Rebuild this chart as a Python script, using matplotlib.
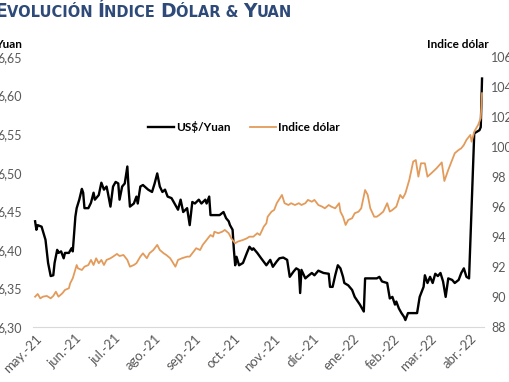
import matplotlib
matplotlib.use("Agg")
import matplotlib.pyplot as plt
import numpy as np
import pandas as pd
from matplotlib.offsetbox import TextArea, HPacker, AnchoredOffsetbox

plt.rcParams['font.family'] = ['Lato', 'DejaVu Sans']

# days counted from 2021-05-01
yuan_days = [0, 1, 2, 5, 8, 10, 12, 14, 15, 17, 18, 20, 22, 23, 26, 28, 29, 31, 32, 34,
             36, 37, 38, 41, 43, 45, 46, 49, 51, 53, 55, 56, 58, 60, 62, 64, 65, 67, 69, 71,
             72, 73, 76, 78, 79, 81, 83, 87, 90, 92, 94, 96, 98, 100, 102, 105, 108, 110, 112, 114,
             117, 119, 121, 123, 126, 128, 131, 132, 134, 135, 138, 142, 145, 147, 149, 150, 152, 153, 154, 155,
             157, 160, 163, 165, 167, 168, 171, 174, 178, 181, 183, 186, 188, 191, 194, 195, 196, 199, 201, 203,
             204, 205, 208, 210, 213, 215, 218, 222, 226, 227, 229, 231, 233, 235, 237, 238, 241, 244, 246, 250,
             253, 254, 258, 263, 265, 267, 271, 273, 275, 277, 278, 280, 282, 284, 285, 287, 290, 294, 296, 299,
             300, 302, 304, 306, 308, 310, 312, 314, 316, 318, 321, 323, 326, 328, 330, 332, 334, 338, 342, 343,
             344]
yuan = [6.437, 6.426, 6.432, 6.430, 6.413, 6.383, 6.366, 6.367, 6.383, 6.400, 6.396, 6.398, 6.389, 6.396, 6.396, 6.402, 6.398, 6.443, 6.454, 6.465,
        6.479, 6.474, 6.454, 6.454, 6.461, 6.474, 6.465, 6.471, 6.487, 6.478, 6.482, 6.474, 6.456, 6.482, 6.488, 6.486, 6.465, 6.482, 6.486, 6.508,
        6.478, 6.456, 6.460, 6.469, 6.460, 6.482, 6.484, 6.478, 6.475, 6.486, 6.499, 6.482, 6.475, 6.478, 6.469, 6.467, 6.458, 6.452, 6.465, 6.449,
        6.454, 6.432, 6.462, 6.460, 6.465, 6.460, 6.465, 6.460, 6.469, 6.445, 6.445, 6.445, 6.449, 6.441, 6.437, 6.432, 6.426, 6.400, 6.380, 6.391,
        6.380, 6.383, 6.396, 6.404, 6.400, 6.402, 6.396, 6.389, 6.380, 6.387, 6.378, 6.385, 6.389, 6.390, 6.387, 6.376, 6.365, 6.372, 6.376, 6.374,
        6.344, 6.374, 6.363, 6.366, 6.370, 6.367, 6.373, 6.370, 6.369, 6.352, 6.352, 6.367, 6.380, 6.376, 6.365, 6.357, 6.354, 6.348, 6.339, 6.329,
        6.320, 6.363, 6.363, 6.363, 6.365, 6.359, 6.357, 6.337, 6.339, 6.329, 6.333, 6.324, 6.318, 6.313, 6.309, 6.318, 6.318, 6.318, 6.339, 6.352,
        6.367, 6.357, 6.365, 6.357, 6.369, 6.366, 6.370, 6.359, 6.339, 6.363, 6.361, 6.357, 6.361, 6.370, 6.376, 6.365, 6.363, 6.551, 6.555, 6.559,
        6.622]

dxy_days = [0, 2, 4, 6, 9, 12, 14, 16, 18, 21, 23, 26, 27, 29, 32, 33, 36, 38, 41, 43,
            45, 47, 49, 51, 53, 55, 58, 60, 63, 65, 68, 71, 73, 76, 78, 81, 83, 86, 88, 91,
            94, 96, 99, 101, 104, 108, 110, 113, 117, 119, 122, 124, 127, 129, 132, 135, 137, 138, 141, 144,
            146, 149, 151, 154, 156, 160, 163, 165, 168, 171, 173, 176, 178, 179, 182, 184, 186, 190, 192, 195,
            197, 200, 203, 205, 208, 210, 213, 215, 218, 221, 223, 226, 228, 231, 234, 235, 237, 239, 241, 244,
            246, 249, 251, 254, 256, 258, 261, 263, 265, 268, 271, 273, 275, 278, 281, 283, 285, 288, 291, 293,
            295, 297, 300, 302, 305, 309, 313, 315, 318, 321, 323, 326, 328, 330, 332, 335, 336, 338, 341, 343,
            344]
dxy = [90.02, 90.20, 89.91, 90.02, 90.07, 89.91, 90.07, 90.35, 90.02, 90.25, 90.47, 90.58, 90.91, 91.25, 92.13, 91.91, 91.80, 92.02, 92.13, 92.47,
       92.13, 92.58, 92.25, 92.47, 92.13, 92.47, 92.58, 92.69, 92.87, 92.73, 92.80, 92.47, 92.02, 92.13, 92.25, 92.69, 92.91, 92.58, 92.91, 93.13,
       93.47, 93.13, 92.91, 92.80, 92.58, 92.02, 92.47, 92.58, 92.69, 92.69, 93.02, 93.25, 93.13, 93.47, 93.80, 94.13, 94.02, 94.35, 94.25, 94.35,
       94.47, 94.25, 93.91, 93.58, 93.69, 93.80, 93.91, 94.02, 94.02, 94.25, 94.13, 94.69, 94.91, 95.35, 95.69, 95.80, 96.25, 96.80, 96.25, 96.13,
       96.25, 96.13, 96.25, 96.13, 96.25, 96.47, 96.35, 96.47, 96.13, 96.02, 95.91, 96.13, 96.02, 95.91, 96.25, 95.69, 95.35, 94.80, 95.13, 95.25,
       95.58, 95.69, 95.91, 97.13, 96.80, 95.91, 95.35, 95.35, 95.47, 95.69, 96.25, 95.69, 95.80, 96.02, 96.80, 96.58, 96.91, 97.80, 99.02, 99.13,
       98.02, 98.91, 98.91, 98.02, 98.25, 98.58, 98.97, 97.73, 98.47, 99.13, 99.58, 99.80, 99.91, 100.13, 100.47, 100.80, 100.35, 101.02, 101.47, 101.91,
       103.58]

month_labels = ["may.-21", "jun.-21", "jul.-21", "ago.-21", "sep.-21", "oct.-21",
                "nov.-21", "dic.-21", "ene.-22", "feb.-22", "mar.-22", "abr.-22"]
yuan_ticks = [6.30, 6.35, 6.40, 6.45, 6.50, 6.55, 6.60, 6.65]
dxy_ticks = [88, 90, 92, 94, 96, 98, 100, 102, 104, 106]

start = pd.Timestamp("2021-05-01")
yuan_dates = start + pd.to_timedelta(yuan_days, unit="D")
dxy_dates = start + pd.to_timedelta(dxy_days, unit="D")
month_ticks = pd.date_range(start, periods=len(month_labels), freq="MS")

gray = "#595959"
orange = "#e39b5b"

fig = plt.figure(figsize=(5.1, 3.82), dpi=100)
ax = fig.add_axes([0.065, 0.144, 0.884, 0.707])
ax2 = ax.twinx()

l1, = ax.plot(yuan_dates, yuan, color="black", lw=1.7, label="US$/Yuan")
l2, = ax2.plot(dxy_dates, dxy, color=orange, lw=1.3, label="Indice dólar")

ax.set_xlim(start - pd.Timedelta(days=1.5), start + pd.Timedelta(days=345.5))
ax.set_ylim(6.30, 6.65)
ax2.set_ylim(88, 106)

ax.set_xticks(month_ticks)
ax.set_xticklabels(month_labels, rotation=45, ha="right", rotation_mode="anchor")
ax.set_yticks(yuan_ticks)
ax.set_yticklabels([f"{v:.2f}".replace(".", ",") for v in yuan_ticks])
ax2.set_yticks(dxy_ticks)

for a in (ax, ax2):
    for s in a.spines.values():
        s.set_visible(False)
    a.tick_params(length=0, colors=gray, labelsize=9)
ax.spines["bottom"].set_visible(True)
ax.spines["bottom"].set_color("#d9d9d9")
ax.tick_params(axis="y", pad=8)
ax.tick_params(axis="x", pad=4, labelsize=9.5)
ax2.tick_params(axis="y", pad=5)

ax2.legend(handles=[l1, l2], loc="center", bbox_to_anchor=(0.468, 0.74), ncol=2,
           frameon=False, prop={"weight": "bold", "size": 8.5}, handlelength=2.2,
           handletextpad=0.2, columnspacing=1.6)

fig.text(22 / 510, 1 - 44 / 382, "Yuan", ha="right", va="center", fontsize=8.5, fontweight="bold")
fig.text(458 / 510, 1 - 45 / 382, "Indice dólar", ha="center", va="center", fontsize=8.5, fontweight="bold")

# title in small caps
title_parts = [("E", 13.5), ("VOLUCIÓN ", 10.5), ("Í", 13.5), ("NDICE ", 10.5),
               ("D", 13.5), ("ÓLAR & ", 10.5), ("Y", 13.5), ("UAN", 10.5)]
boxes = [TextArea(s, textprops=dict(fontsize=sz, fontweight="bold", color="#2d4a78",
                                    family="DejaVu Sans"))
         for s, sz in title_parts]
pack = HPacker(children=boxes, align="baseline", pad=0, sep=0)
title_box = AnchoredOffsetbox(loc="upper left", child=pack, pad=0, borderpad=0, frameon=False,
                              bbox_to_anchor=(-0.012, 0.995), bbox_transform=fig.transFigure)
fig.add_artist(title_box)

fig.savefig("out.png", dpi=100)
